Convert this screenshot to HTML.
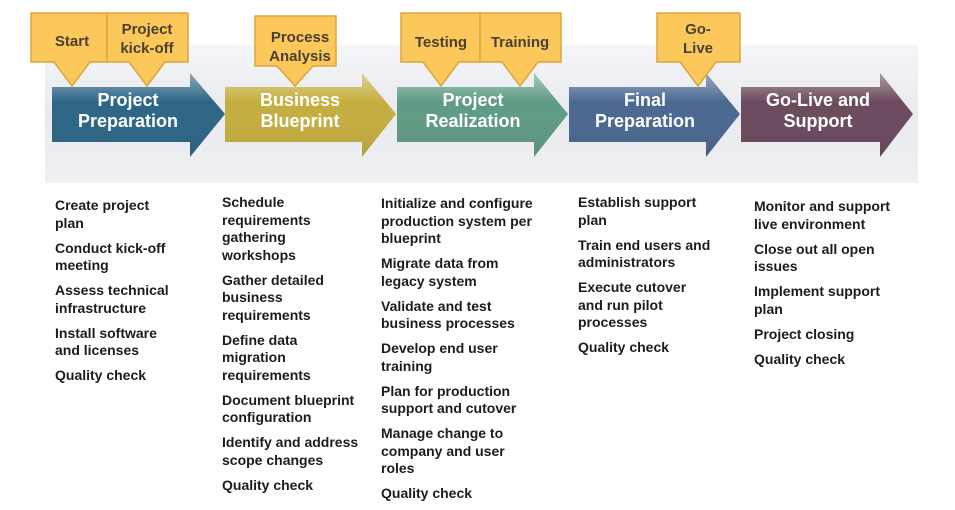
<!DOCTYPE html>
<html><head><meta charset="utf-8"><style>
body{margin:0;width:955px;height:509px;background:#fff;position:relative;overflow:hidden;font-family:"Liberation Sans",Arial,sans-serif}
svg{position:absolute;left:0;top:0}
.col{position:absolute;font-weight:bold;font-size:14px;line-height:17.5px;color:#1c1c1c}
.col div{margin-bottom:7.5px;white-space:nowrap}
</style></head><body>
<svg width="955" height="190">
<defs>
<linearGradient id="band" x1="0" y1="0" x2="0" y2="1"><stop offset="0" stop-color="#f4f5f7"/><stop offset="0.5" stop-color="#e8eaee"/><stop offset="1" stop-color="#eef0f2"/></linearGradient>
<linearGradient id="gl" x1="0" y1="0" x2="0" y2="1"><stop offset="0" stop-color="#fff" stop-opacity="0.45"/><stop offset="0.35" stop-color="#fff" stop-opacity="0"/><stop offset="1" stop-color="#000" stop-opacity="0.08"/></linearGradient>
</defs>
<rect x="45" y="45" width="873" height="138" fill="url(#band)"/>
<g font-size="18" font-weight="bold" fill="#fff" text-anchor="middle">
<g>
<polygon points="52,87 190,87 190,73 225,114 190,157 190,142 52,142" fill="#2d6586"/>
<polygon points="52,87 190,87 190,73 225,114 190,157 190,142 52,142" fill="url(#gl)"/>
<text x="128" y="106">Project</text>
<text x="128" y="127">Preparation</text></g>
<g>
<polygon points="225,87 362,87 362,73 396,114 362,157 362,142 225,142" fill="#c5ae3f"/>
<polygon points="225,87 362,87 362,73 396,114 362,157 362,142 225,142" fill="url(#gl)"/>
<text x="300" y="106">Business</text>
<text x="300" y="127">Blueprint</text></g>
<g>
<polygon points="397,87 534,87 534,73 568,114 534,157 534,142 397,142" fill="#5f9b84"/>
<polygon points="397,87 534,87 534,73 568,114 534,157 534,142 397,142" fill="url(#gl)"/>
<text x="473" y="106">Project</text>
<text x="473" y="127">Realization</text></g>
<g>
<polygon points="569,87 706,87 706,73 740,114 706,157 706,142 569,142" fill="#4a6890"/>
<polygon points="569,87 706,87 706,73 740,114 706,157 706,142 569,142" fill="url(#gl)"/>
<text x="645" y="106">Final</text>
<text x="645" y="127">Preparation</text></g>
<g>
<polygon points="741,87 880,87 880,73 913,114 880,157 880,142 741,142" fill="#6b4a5d"/>
<polygon points="741,87 880,87 880,73 913,114 880,157 880,142 741,142" fill="url(#gl)"/>
<text x="818" y="106">Go-Live and</text>
<text x="818" y="127">Support</text></g>
</g>
<g fill="#fcc85c" stroke="#dba53b" stroke-width="1.5" font-size="15" font-weight="bold">
<g><polygon points="31,13 107,13 107,62 90,62 72,86 54,62 31,62"/><text x="72" y="46" text-anchor="middle" fill="#4a4030" stroke="none">Start</text></g>
<g><polygon points="107,13 188,13 188,62 165,62 147,86 129,62 107,62"/><text x="147" y="34" text-anchor="middle" fill="#4a4030" stroke="none">Project</text><text x="147" y="53" text-anchor="middle" fill="#4a4030" stroke="none">kick-off</text></g>
<g><polygon points="255,16 336,16 336,66 313,66 295,86 277,66 255,66"/><text x="300" y="42" text-anchor="middle" fill="#4a4030" stroke="none">Process</text><text x="300" y="61" text-anchor="middle" fill="#4a4030" stroke="none">Analysis</text></g>
<g><polygon points="401,13 480,13 480,62 459,62 441,86 423,62 401,62"/><text x="441" y="47" text-anchor="middle" fill="#4a4030" stroke="none">Testing</text></g>
<g><polygon points="480,13 561,13 561,62 538,62 520,86 502,62 480,62"/><text x="520" y="47" text-anchor="middle" fill="#4a4030" stroke="none">Training</text></g>
<g><polygon points="657,13 740,13 740,62 716,62 698,86 680,62 657,62"/><text x="698" y="34" text-anchor="middle" fill="#4a4030" stroke="none">Go-</text><text x="698" y="53" text-anchor="middle" fill="#4a4030" stroke="none">Live</text></g>
</g>
</svg>
<div class="col" style="left:55px;top:197px">
<div>Create project<br>plan</div><div>Conduct kick-off<br>meeting</div><div>Assess technical<br>infrastructure</div><div>Install software<br>and licenses</div><div>Quality check</div></div>
<div class="col" style="left:222px;top:194px">
<div>Schedule<br>requirements<br>gathering<br>workshops</div><div>Gather detailed<br>business<br>requirements</div><div>Define data<br>migration<br>requirements</div><div>Document blueprint<br>configuration</div><div>Identify and address<br>scope changes</div><div>Quality check</div></div>
<div class="col" style="left:381px;top:195px">
<div>Initialize and configure<br>production system per<br>blueprint</div><div>Migrate data from<br>legacy system</div><div>Validate and test<br>business processes</div><div>Develop end user<br>training</div><div>Plan for production<br>support and cutover</div><div>Manage change to<br>company and user<br>roles</div><div>Quality check</div></div>
<div class="col" style="left:578px;top:194px">
<div>Establish support<br>plan</div><div>Train end users and<br>administrators</div><div>Execute cutover<br>and run pilot<br>processes</div><div>Quality check</div></div>
<div class="col" style="left:754px;top:198px">
<div>Monitor and support<br>live environment</div><div>Close out all open<br>issues</div><div>Implement support<br>plan</div><div>Project closing</div><div>Quality check</div></div>
</body></html>
